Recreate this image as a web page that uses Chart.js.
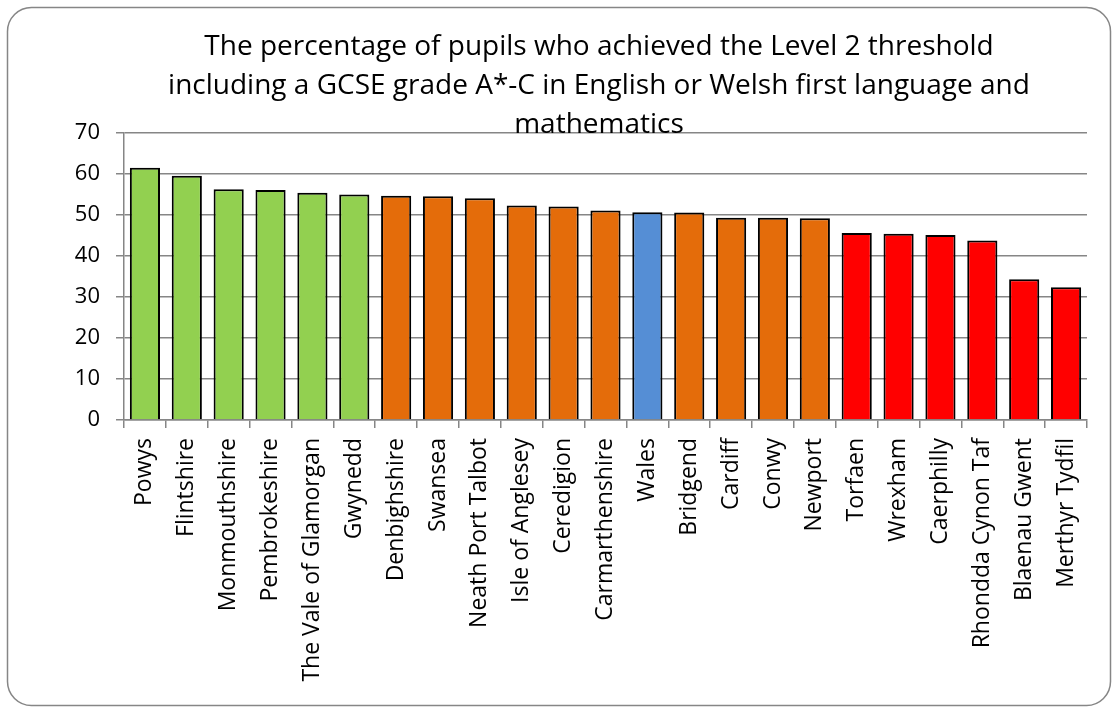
<!DOCTYPE html>
<html>
<head>
<meta charset="utf-8">
<script src="https://cdn.jsdelivr.net/npm/chart.js@4.4.1/dist/chart.umd.min.js"></script>
<style>
  html, body { margin: 0; padding: 0; background: #fff; }
  #wrap { width: 1118px; height: 709px; position: relative; }
</style>
</head>
<body>
<div id="wrap"><canvas id="gcseChart" width="1118" height="709"></canvas></div>
<script>
// Level 2 threshold incl. English/Welsh and maths, by local authority
const authorities = [
    "Powys", "Flintshire", "Monmouthshire", "Pembrokeshire", "The Vale of Glamorgan",
    "Gwynedd", "Denbighshire", "Swansea", "Neath Port Talbot", "Isle of Anglesey",
    "Ceredigion", "Carmarthenshire", "Wales", "Bridgend", "Cardiff", "Conwy", "Newport",
    "Torfaen", "Wrexham", "Caerphilly", "Rhondda Cynon Taf", "Blaenau Gwent", "Merthyr Tydfil"
];
const percentages = [
    61.5, 59.6, 56.3, 56.1, 55.4, 55.0, 54.7, 54.6, 54.1, 52.3,
    52.1, 51.1, 50.7, 50.6, 49.3, 49.3, 49.2,
    45.6, 45.4, 45.1, 43.8, 34.3, 32.4
];
// band of each bar: above / around / wales / below
const bands = [
    "above", "above", "above", "above", "above", "above",
    "mid", "mid", "mid", "mid", "mid", "mid", "wales", "mid", "mid", "mid", "mid",
    "below", "below", "below", "below", "below", "below"
];
const titleLines = [
    "The percentage of pupils who achieved the Level 2 threshold",
    "including a GCSE grade A*-C in English or Welsh first language and",
    "mathematics"
];

const bandColors = { above: "#92D050", mid: "#E46C0A", wales: "#558ED5", below: "#FF0000" };
const fontFamily = '"Open Sans", "Noto Sans", sans-serif';

Chart.defaults.font.family = fontFamily;
Chart.defaults.color = '#000';

// frame + title drawn by hand, so the title can sit over the top gridline like the original
const frameAndTitle = {
    id: 'frameAndTitle',
    beforeDraw(chart) {
        const c = chart.ctx;
        c.save();
        c.fillStyle = '#fff';
        c.fillRect(0, 0, chart.width, chart.height);
        c.strokeStyle = '#868686';
        c.lineWidth = 1.5;
        c.beginPath();
        c.roundRect(7.5, 7.5, 1103, 698, 24);
        c.stroke();
        c.restore();
    },
    afterDraw(chart) {
        const c = chart.ctx;
        c.save();
        c.fillStyle = '#000';
        c.font = '28px ' + fontFamily;
        c.textAlign = 'center';
        c.textBaseline = 'alphabetic';
        const baselines = [55, 94, 133];
        titleLines.forEach((line, i) => c.fillText(line, 599, baselines[i]));
        c.restore();
    }
};

var ctx = document.getElementById("gcseChart");
var gcseBarChart = new Chart(ctx, {
    type: 'bar',
    data: {
        labels: authorities,
        datasets: [{
            label: "Level 2 inc. English/Welsh and maths",
            data: percentages,
            backgroundColor: bands.map(b => bandColors[b]),
            borderColor: '#000',
            borderWidth: 2,
            barPercentage: 0.72,
            categoryPercentage: 1.0
        }]
    },
    options: {
        responsive: false,
        animation: false,
        layout: {
            padding: { top: 133, right: 31, left: 0, bottom: 0 }
        },
        plugins: {
            legend: { display: false },
            title: { display: false },
            tooltip: { enabled: false }
        },
        scales: {
            x: {
                afterFit: (s) => { s.height = 289; },
                ticks: {
                    minRotation: 90,
                    maxRotation: 90,
                    autoSkip: false,
                    padding: 10,
                    font: { size: 23 },
                    color: '#000'
                },
                grid: {
                    offset: true,
                    drawOnChartArea: false,
                    tickLength: 8,
                    color: '#868686',
                    lineWidth: 1.5
                },
                border: { color: '#868686', width: 1.5 }
            },
            y: {
                min: 0,
                max: 70,
                afterFit: (s) => { s.width = 124; },
                ticks: {
                    stepSize: 10,
                    padding: 16,
                    font: { size: 22 },
                    color: '#000'
                },
                grid: {
                    color: '#868686',
                    lineWidth: 1.5,
                    tickLength: 8
                },
                border: { color: '#868686', width: 1.5 }
            }
        }
    },
    plugins: [frameAndTitle]
});
</script>
</body>
</html>
